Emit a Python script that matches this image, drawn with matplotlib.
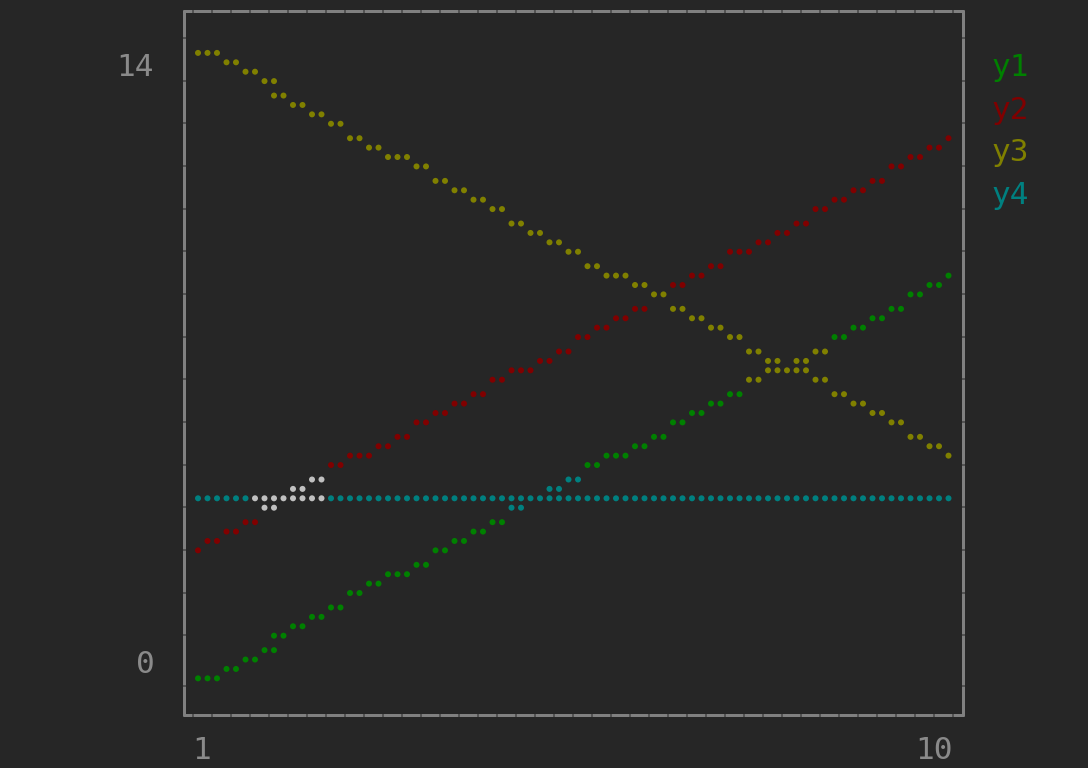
#!/usr/bin/env python3
"""
Terminal style braille line plot (UnicodePlots look) redrawn with matplotlib.
Writes out.png at 1088x768.
"""

import math

import matplotlib
matplotlib.use("Agg")
import matplotlib.pyplot as plt

# ---- data -----------------------------------------------------------------
X = [1, 2, 3, 4, 5, 6, 7, 8, 9, 10]
Y1 = [0, 1, 2, 3, 4, 5, 6, 7, 8, 9]
Y2 = [3, 4, 5, 6, 7, 8, 9, 10, 11, 12.05]
Y3 = [14, 13, 12, 11, 10, 9, 8, 7, 6, 5]
Y4 = [4, 4, 4, 4, 4, 4, 4, 4, 4, 4]
NAMES = ["y1", "y2", "y3", "y4"]
X_LIMITS = (1, 10)
Y_LIMITS = (0, 14)
X_TICK_LABELS = ["1", "10"]
Y_TICK_LABELS = ["14", "0"]

# ---- styling --------------------------------------------------------------
BG = "#262626"
BORDER = "#808080"
TEXT = "#8a8a8a"
# ANSI colour codes, mixed per braille cell with bitwise OR like a terminal
SERIES_CODES = [2, 1, 3, 6]  # green, red, yellow, cyan
ANSI = {1: "#800000", 2: "#008000", 3: "#808000", 4: "#000080",
        5: "#800080", 6: "#008080", 7: "#c0c0c0"}

FIG_W, FIG_H = 1088, 768
DPI = 100
FONT = "DejaVu Sans Mono"
FONT_SIZE = 22.4

# terminal grid (screen pixels)
CHAR_W = 19.0
ROW_H = 42.66
PLOT_LEFT = 193.25      # left edge of first canvas character
ROW0_Y = 67.0           # centre of first canvas row
SUB_X = [4.75, 14.25]
SUB_Y = [-14.1, -4.7, 4.7, 14.1]
N_COLS, N_ROWS = 40, 15
PW, PH = N_COLS * 2, N_ROWS * 4   # braille dots

BOX_TOP, BOX_BOTTOM = 10.5, 714.5
BOX_LEFT, BOX_RIGHT = 183.5, 962.5
LINE_PX = 3.0


def rasterize(xs, ys):
    """Walk each segment on the dot canvas the way a braille canvas does."""
    x0, x1 = X_LIMITS
    y0, y1 = Y_LIMITS
    dots = []

    def put(px, py):
        if not (0 <= px <= PW and 0 <= py <= PH):
            return
        px = px if px < PW else px - 1
        py = py if py < PH else py - 1
        dots.append((px, py))

    for i in range(len(xs) - 1):
        px1 = (xs[i] - x0) / (x1 - x0) * PW
        px2 = (xs[i + 1] - x0) / (x1 - x0) * PW
        py1 = PH - (ys[i] - y0) / (y1 - y0) * PH
        py2 = PH - (ys[i + 1] - y0) / (y1 - y0) * PH
        dx, dy = px2 - px1, py2 - py1
        n = max(abs(dx), abs(dy))
        ix, iy = dx / n, dy / n
        cx, cy = px1, py1
        put(math.floor(cx), math.floor(cy))
        for _ in range(int(n)):
            cx += ix
            cy += iy
            put(math.floor(cx), math.floor(cy))
    return dots


def dot_xy(px, py):
    sx = PLOT_LEFT + (px // 2) * CHAR_W + SUB_X[px % 2]
    sy = ROW0_Y + (py // 4) * ROW_H + SUB_Y[py % 4]
    return sx, sy


def border(ax, gaps_h, gaps_v):
    lw = LINE_PX * 72 / DPI
    half = LINE_PX / 2
    for y in (BOX_TOP, BOX_BOTTOM):
        stops = [BOX_LEFT - half] + gaps_h + [BOX_RIGHT + half]
        for a, b in zip(stops[:-1], stops[1:]):
            ax.plot([a + 0.5, b - 0.5], [y, y], color=BORDER, lw=lw,
                    solid_capstyle="butt")
    for x in (BOX_LEFT, BOX_RIGHT):
        stops = [BOX_TOP - half] + gaps_v + [BOX_BOTTOM + half]
        for a, b in zip(stops[:-1], stops[1:]):
            ax.plot([x, x], [a + 0.5, b - 0.5], color=BORDER, lw=lw,
                    solid_capstyle="butt")


def main():
    fig = plt.figure(figsize=(FIG_W / DPI, FIG_H / DPI), dpi=DPI, facecolor=BG)
    ax = fig.add_axes([0, 0, 1, 1])
    ax.set_xlim(0, FIG_W)
    ax.set_ylim(FIG_H, 0)
    ax.axis("off")
    ax.set_facecolor(BG)

    # box with small seams between the box-drawing glyphs
    gaps_h = [PLOT_LEFT - 1 + k * CHAR_W for k in range(N_COLS + 1)]
    gaps_v = [37.5 + k * ROW_H for k in range(N_ROWS)] + [685.0]
    border(ax, gaps_h, gaps_v)

    # braille canvas: per cell dots + OR-ed colour
    cells = {}
    for ys, code in zip([Y1, Y2, Y3, Y4], SERIES_CODES):
        for px, py in rasterize(X, ys):
            key = (px // 2, py // 4)
            entry = cells.setdefault(key, [set(), 0])
            entry[0].add((px, py))
            entry[1] |= code

    xs, ys, cs = [], [], []
    for dots, code in cells.values():
        for px, py in sorted(dots):
            sx, sy = dot_xy(px, py)
            xs.append(sx)
            ys.append(sy)
            cs.append(ANSI[code])
    dot_pt = 6.0 * 72 / DPI
    ax.scatter(xs, ys, s=dot_pt ** 2, c=cs, linewidths=0, zorder=3)

    # tick labels
    base0 = ROW0_Y + 9
    ax.text(135.5, base0, Y_TICK_LABELS[0], color=TEXT, family=FONT,
            fontsize=FONT_SIZE, ha="center", va="baseline")
    ax.text(145.5, base0 + (N_ROWS - 1) * ROW_H, Y_TICK_LABELS[1], color=TEXT,
            family=FONT, fontsize=FONT_SIZE, ha="center", va="baseline")
    ax.text(202.0, 759, X_TICK_LABELS[0], color=TEXT, family=FONT,
            fontsize=FONT_SIZE, ha="center", va="baseline")
    ax.text(934.0, 759, X_TICK_LABELS[1], color=TEXT, family=FONT,
            fontsize=FONT_SIZE, ha="center", va="baseline")

    # legend on the right, one name per row
    for i, (name, code) in enumerate(zip(NAMES, SERIES_CODES)):
        ax.text(1010.0, base0 + i * ROW_H, name, color=ANSI[code], family=FONT,
                fontsize=FONT_SIZE, ha="center", va="baseline")

    fig.savefig("out.png", dpi=DPI, facecolor=BG)
    plt.close(fig)


if __name__ == "__main__":
    main()
